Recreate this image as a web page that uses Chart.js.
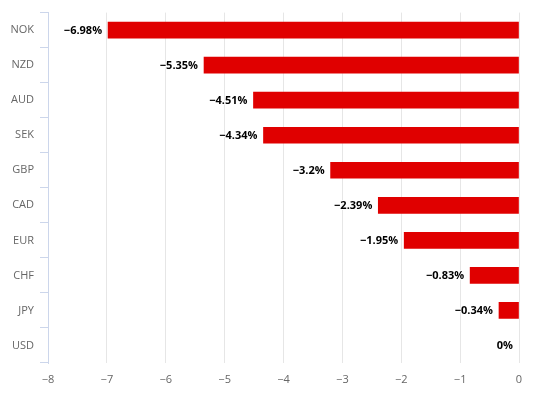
<!DOCTYPE html>
<html lang="en">
<head>
  <meta charset="UTF-8" />
  <title>Currency changes</title>
  <script src="https://cdn.jsdelivr.net/npm/chart.js"></script>
  <style>
    html, body { margin: 0; padding: 0; background: #ffffff; }
    #wrap { width: 536px; height: 394px; }
  </style>
</head>
<body>
  <div id="wrap"><canvas id="chart" width="536" height="394"></canvas></div>
  <script>
    const currencies = ["NOK", "NZD", "AUD", "SEK", "GBP", "CAD", "EUR", "CHF", "JPY", "USD"];
    const changes = [-6.98, -5.35, -4.51, -4.34, -3.2, -2.39, -1.95, -0.83, -0.34, 0];
    const xTicks = [-8, -7, -6, -5, -4, -3, -2, -1, 0];

    const minus = s => String(s).replace("-", "\u2212");

    // labels at the end of each bar, with a white outline
    const barLabels = {
      id: "barLabels",
      afterDatasetsDraw(chart) {
        const ctx = chart.ctx;
        const meta = chart.getDatasetMeta(0);
        ctx.save();
        ctx.font = "bold 11px 'Open Sans', sans-serif";
        ctx.textAlign = "right";
        ctx.textBaseline = "middle";
        ctx.lineJoin = "round";
        meta.data.forEach((bar, i) => {
          const text = minus(changes[i]) + "%";
          const x = bar.x - 6;
          const y = bar.y + 0.5;
          ctx.strokeStyle = "#ffffff";
          ctx.lineWidth = 2;
          ctx.strokeText(text, x, y);
          ctx.fillStyle = "#000000";
          ctx.fillText(text, x, y);
        });
        ctx.restore();
      }
    };

    new Chart(document.getElementById("chart"), {
      type: "bar",
      data: {
        labels: currencies,
        datasets: [{
          data: changes,
          backgroundColor: c => (c.raw === 0 ? "rgba(0,0,0,0)" : "#e00000"),
          borderWidth: 0,
          barThickness: 16
        }]
      },
      options: {
        indexAxis: "y",
        responsive: false,
        animation: false,
        layout: { padding: { top: 11, right: 17, bottom: 0, left: 0 } },
        plugins: {
          legend: { display: false },
          tooltip: { enabled: false }
        },
        scales: {
          x: {
            min: -8,
            max: 0,
            afterBuildTicks: axis => { axis.ticks = xTicks.map(v => ({ value: v })); },
            afterFit: axis => { axis.height = 31; },
            border: { display: false },
            grid: { color: "#e6e6e6", drawTicks: false },
            ticks: {
              color: "#666666",
              padding: 10,
              font: { size: 11, family: "'Open Sans', sans-serif" },
              callback: v => minus(v)
            }
          },
          y: {
            afterFit: axis => { axis.width = 48; },
            border: { display: true, color: "#ccd6eb" },
            grid: {
              offset: true,
              drawOnChartArea: false,
              drawTicks: true,
              tickLength: 8,
              tickColor: "#ccd6eb"
            },
            ticks: {
              color: "#666666",
              padding: 6,
              font: { size: 11, family: "'Open Sans', sans-serif" }
            }
          }
        }
      },
      plugins: [barLabels]
    });
  </script>
</body>
</html>
